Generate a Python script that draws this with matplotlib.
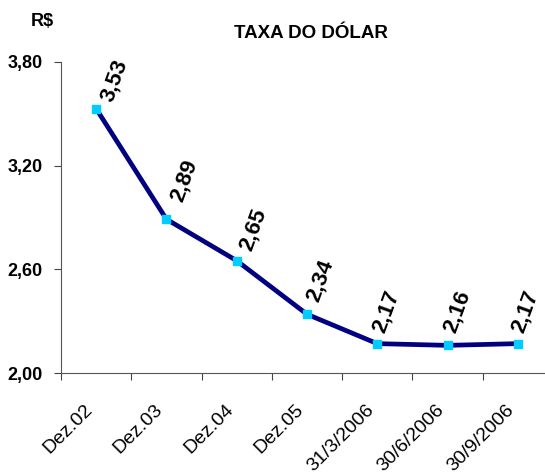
import matplotlib.pyplot as plt
from matplotlib.transforms import ScaledTranslation

plt.rcParams['font.family'] = ['Liberation Sans', 'DejaVu Sans']

periods = ["Dez.02", "Dez.03", "Dez.04", "Dez.05", "31/3/2006", "30/6/2006", "30/9/2006"]
rates = [3.53, 2.89, 2.65, 2.34, 2.17, 2.16, 2.17]
yticks = [2.00, 2.60, 3.20, 3.80]

# label nudges in pixels (right, up), like the excel placement
label_nudge = [(18, 4), (18, 15), (16, 7), (13, 10), (9, 8), (10, 10), (7, 8)]

fig = plt.figure(figsize=(5.45, 4.73), dpi=100)
ax = fig.add_axes([61 / 545, 1 - 373 / 473, 492 / 545, 311 / 473])

x = list(range(len(periods)))
ax.plot(x, rates, color="#000080", lw=3.4, marker="s", markersize=6,
        markerfacecolor="#00CCFF", markeredgecolor="#00CCFF", zorder=3)

for xi, v, (dx, dy) in zip(x, rates, label_nudge):
    ax.annotate(f"{v:.2f}".replace(".", ","), (xi, v), xytext=(dx * 0.72, dy * 0.72),
                textcoords="offset points", rotation=70,
                ha="center", va="bottom", fontsize=16, fontweight="bold")

ax.set_xlim(-0.5, len(periods) - 0.5)
ax.set_ylim(2.0, 3.8)
ax.set_yticks(yticks)
ax.set_yticklabels([f"{t:.2f}".replace(".", ",") for t in yticks],
                   fontsize=13, fontweight="bold")
ax.set_xticks([i - 0.5 for i in range(len(periods) + 1)], minor=False)
ax.set_xticklabels([])
ax.set_xticks(x, minor=True)
ax.set_xticklabels(periods, minor=True, rotation=45, ha="right", va="center",
                   rotation_mode="anchor", fontsize=14)
ax.tick_params(axis="x", which="minor", length=0, pad=0)
ax.tick_params(axis="x", which="major", length=5, color="#444444")
ax.tick_params(axis="y", length=5, color="#444444", pad=8)

shift = ScaledTranslation(-6 / 100, -34 / 100, fig.dpi_scale_trans)
for lab in ax.get_xticklabels(minor=True):
    lab.set_transform(lab.get_transform() + shift)

for s in ["top", "right"]:
    ax.spines[s].set_visible(False)
for s in ["left", "bottom"]:
    ax.spines[s].set_color("#555555")

fig.text(311 / 545, 1 - 33 / 473, "TAXA DO DÓLAR", ha="center", va="center",
         fontsize=13.5, fontweight="bold")
fig.text(42 / 545, 1 - 21 / 473, "R$", ha="center", va="center",
         fontsize=13, fontweight="bold")

plt.savefig("out.png", dpi=100)
